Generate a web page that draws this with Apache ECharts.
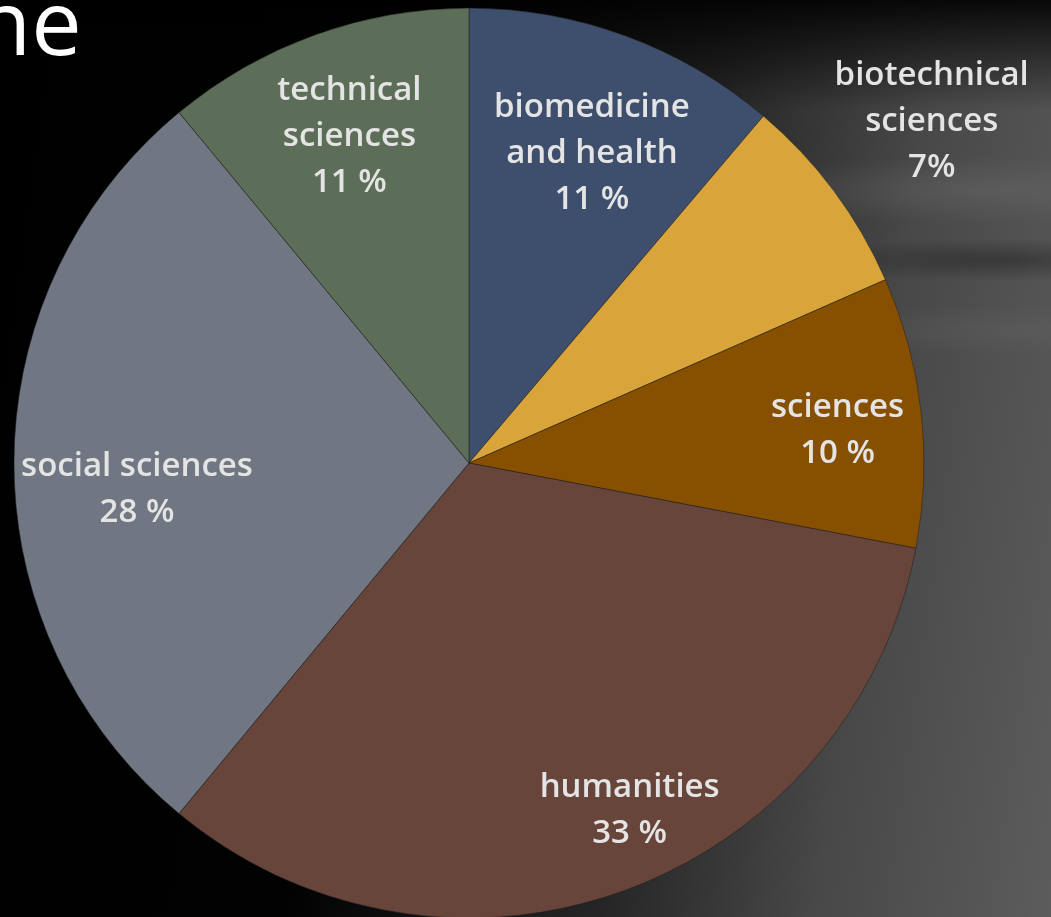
<!DOCTYPE html>
<html>
<head>
<meta charset="utf-8">
<title>Research fields</title>
<script src="https://cdn.jsdelivr.net/npm/echarts@6/dist/echarts.min.js"></script>
<style>
  html, body { margin: 0; padding: 0; }
  body {
    width: 1051px; height: 917px; overflow: hidden;
    background:
      linear-gradient(to bottom, rgba(0,0,0,0.9) 0px, rgba(0,0,0,0) 110px),
      radial-gradient(ellipse 260px 34px at 990px 190px, rgba(110,110,110,0.4), rgba(0,0,0,0)),
      radial-gradient(ellipse 220px 26px at 1010px 330px, rgba(100,100,100,0.35), rgba(0,0,0,0)),
      radial-gradient(ellipse 200px 22px at 1000px 260px, rgba(0,0,0,0.3), rgba(0,0,0,0)),
      linear-gradient(98deg, #000 0%, #020202 35%, #262626 62%, #484848 80%, #5c5c5c 100%);
  }
  #chart { width: 1051px; height: 917px; }
</style>
</head>
<body>
<div id="chart"></div>
<script>
// slices, clockwise from 12 o'clock (shares)
var fields = ['biomedicine\nand health', 'biotechnical\nsciences', 'sciences', 'humanities', 'social sciences', 'technical\nsciences'];
var shares = [11.2, 7.2, 9.6, 33.0, 28.0, 11.0];
var pctText = ['11 %', '7%', '10 %', '33 %', '28 %', '11 %'];
var colors = ['#3e4f6d', '#d9a53b', '#875000', '#67453a', '#707782', '#5c6e58'];

// label placement: distance from centre and a small turn off the slice middle (deg, clockwise)
var labelRadius = [330, 572, 367, 380, 330, 345];
var labelTurn = [1.5, 0.3, 1.5, -5, -4.5, -0.3];

var chart = echarts.init(document.getElementById('chart'));

var labelFont = {
  color: '#e4e4e4',
  fontFamily: 'Open Sans',
  fontWeight: 600,
  fontSize: 33,
  lineHeight: 46,
  align: 'center'
};

var series = [{
  type: 'pie',
  silent: true,
  center: [469, 463],
  radius: 455,
  startAngle: 90,
  clockwise: true,
  label: { show: false },
  labelLine: { show: false },
  itemStyle: { borderColor: 'rgba(30,30,30,0.5)', borderWidth: 1 },
  data: fields.map(function (f, i) {
    return { name: f, value: shares[i], itemStyle: { color: colors[i] } };
  })
}];

// one transparent ring per label so every label sits at its own spot
labelRadius.forEach(function (r, k) {
  series.push({
    type: 'pie',
    silent: true,
    center: [469, 463],
    radius: [r - 30, r + 30],
    startAngle: 90 - labelTurn[k],
    clockwise: true,
    labelLine: { show: false },
    itemStyle: { color: 'rgba(0,0,0,0)' },
    data: fields.map(function (f, i) {
      return {
        name: f, value: shares[i],
        label: Object.assign({
          show: i === k,
          position: 'inside',
          formatter: function (p) { return p.name + '\n' + pctText[p.dataIndex]; }
        }, labelFont)
      };
    })
  });
});

chart.setOption({
  backgroundColor: 'transparent',
  animation: false,
  graphic: [{
    type: 'text',
    left: -24,
    top: -16,
    style: {
      text: 'ne',
      fill: '#ffffff',
      font: '400 90px "Open Sans"'
    }
  }],
  series: series
});
</script>
</body>
</html>
